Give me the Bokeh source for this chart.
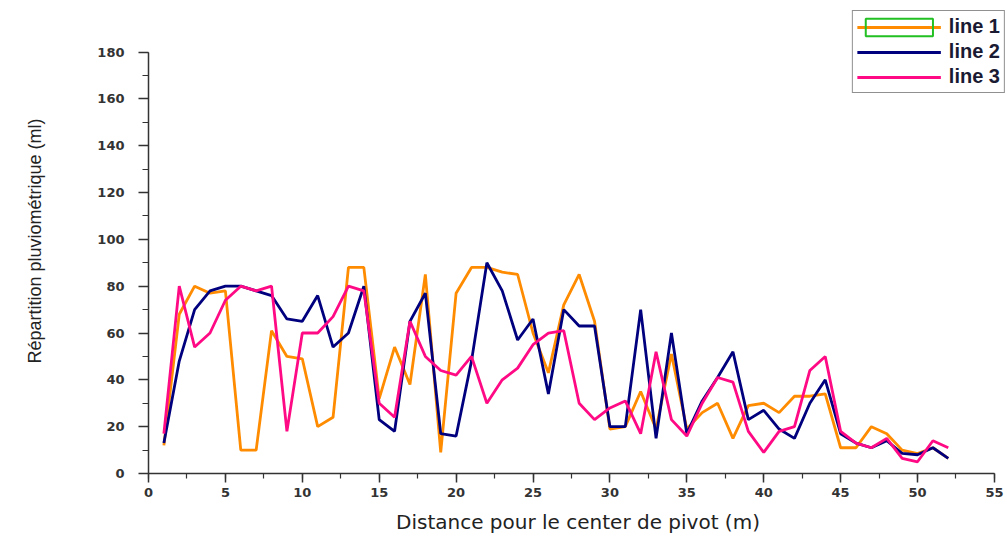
from bokeh.plotting import figure
from bokeh.models import Range1d, SingleIntervalTicker, Legend, LegendItem
from bokeh.embed import file_html
from bokeh.resources import INLINE

distance = list(range(1, 53))
line1 = [12, 68, 80, 77, 78, 10, 10, 61, 50, 49,
         20, 24, 88, 88, 32, 54, 38, 85, 9, 77,
         88, 88, 86, 85, 60, 43, 72, 85, 65, 19,
         20, 35, 19, 51, 19, 26, 30, 15, 29, 30,
         26, 33, 33, 34, 11, 11, 20, 17, 10, 8.5,
         11, 6.5]
line2 = [13, 48, 70, 78, 80, 80, 78, 76, 66, 65,
         76, 54, 60, 80, 23, 18, 65, 77, 17, 16,
         48, 90, 78, 57, 66, 34, 70, 63, 63, 20,
         20, 70, 15, 60, 17, 31, 41, 52, 23, 27,
         19, 15, 30, 40, 17, 13, 11, 14, 8.6, 8,
         11, 6.5]
line3 = [17, 80, 54, 60, 74, 80, 78, 80, 18, 60,
         60, 67, 80, 78, 30, 24, 65, 50, 44, 42,
         50, 30, 40, 45, 55, 60, 61, 30, 23, 28,
         31, 17, 52, 23, 16, 30, 41, 39, 18, 9,
         18, 20, 44, 50, 18, 13, 11, 15, 6.5, 5,
         14, 11]
names = ["line 1", "line 2", "line 3"]
colors = ["#FF8C00", "#00007F", "#FF0A84"]

p = figure(width=1007, height=538, output_backend="svg", toolbar_location=None,
           x_range=Range1d(0, 55.85), y_range=Range1d(0, 198.6),
           min_border_left=148, min_border_right=0, min_border_top=8, min_border_bottom=65)
p.outline_line_color = None
p.xgrid.visible = False
p.ygrid.visible = False

renderers = []
for ys, c in zip([line1, line2, line3], colors):
    r = p.line(distance, ys, line_color=c, line_width=2.8)
    renderers.append(r)

# legend decoration only (green selection box around the line 1 sample); not drawn in the plot
nan = float("nan")
box = p.quad(left=[nan], right=[nan], top=[nan], bottom=[nan], fill_alpha=0,
             line_color="#22C022", line_width=2)

tick_font = "DejaVu Sans"
for ax in (p.xaxis[0], p.yaxis[0]):
    ax.axis_line_color = "#333333"
    ax.axis_line_width = 1.5
    ax.major_tick_line_color = "#333333"
    ax.minor_tick_line_color = "#333333"
    ax.major_tick_line_width = 1.5
    ax.minor_tick_line_width = 1.2
    ax.major_tick_in = 0
    ax.minor_tick_in = 0
    ax.major_label_text_font = tick_font
    ax.major_label_text_font_style = "bold"
    ax.major_label_text_font_size = "13px"
    ax.major_label_text_color = "#333333"

p.xaxis.ticker = SingleIntervalTicker(interval=5, num_minor_ticks=2)
p.yaxis.ticker = SingleIntervalTicker(interval=20, num_minor_ticks=2)
p.xaxis.bounds = (0, 55)
p.yaxis.bounds = (0, 180)
p.xaxis.major_tick_out = 9
p.xaxis.minor_tick_out = 5
p.yaxis.major_tick_out = 10
p.yaxis.minor_tick_out = 6
p.xaxis.major_label_standoff = 5
p.yaxis.major_label_standoff = 14

p.xaxis.axis_label = "Distance pour le center de pivot (m)"
p.xaxis.axis_label_text_font = "DejaVu Sans"
p.xaxis.axis_label_text_font_style = "normal"
p.xaxis.axis_label_text_font_size = "20px"
p.xaxis.axis_label_text_color = "#222222"
p.xaxis.axis_label_standoff = 10

p.yaxis.axis_label = "Répartition pluviométrique (ml)"
p.yaxis.axis_label_text_font = "Liberation Sans"
p.yaxis.axis_label_text_font_style = "normal"
p.yaxis.axis_label_text_font_size = "18px"
p.yaxis.axis_label_text_color = "#222222"
p.yaxis.axis_label_standoff = 49

items = [LegendItem(label=names[0], renderers=[renderers[0], box]),
         LegendItem(label=names[1], renderers=[renderers[1]]),
         LegendItem(label=names[2], renderers=[renderers[2]])]
legend = Legend(items=items, location="top_right", margin=2,
                glyph_width=84, glyph_height=22, label_height=22,
                spacing=2, padding=4, label_standoff=8,
                label_text_font="Liberation Sans", label_text_font_style="bold",
                label_text_font_size="20px", label_text_color="#1a1a33",
                border_line_color="#222222", border_line_width=1.5,
                background_fill_alpha=1.0)
p.add_layout(legend)

open("out.html", "w").write(file_html(p, INLINE))
